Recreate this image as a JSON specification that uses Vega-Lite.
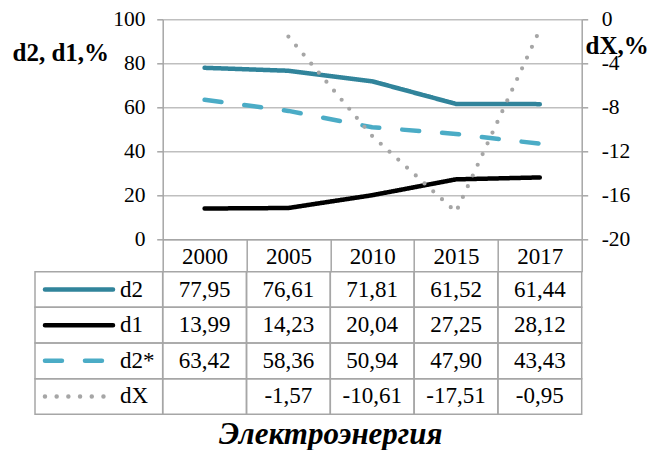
{
  "$schema": "https://vega.github.io/schema/vega-lite/v6.json",
  "width": 419,
  "height": 220,
  "autosize": {"type": "none"},
  "padding": {"left": 162.7, "top": 19.3, "right": 71.3, "bottom": 210.7},
  "background": "white",
  "config": {
    "locale": {"number": {"decimal": ",", "thousands": " ", "grouping": [3], "currency": ["", ""], "minus": "-"}},
    "view": {"stroke": null},
    "font": "Liberation Serif"
  },
  "title": {
    "text": "Электроэнергия",
    "orient": "bottom",
    "frame": "group",
    "anchor": "middle",
    "offset": 28.7,
    "baseline": "alphabetic",
    "font": "Liberation Serif",
    "fontSize": 31,
    "fontStyle": "italic",
    "fontWeight": "bold",
    "color": "black",
    "dx": -41.5
  },
  "datasets": {
    "table": [
      {"series": "d2", "year": "2000", "value": 77.95},
      {"series": "d2", "year": "2005", "value": 76.61},
      {"series": "d2", "year": "2010", "value": 71.81},
      {"series": "d2", "year": "2015", "value": 61.52},
      {"series": "d2", "year": "2017", "value": 61.44},
      {"series": "d1", "year": "2000", "value": 13.99},
      {"series": "d1", "year": "2005", "value": 14.23},
      {"series": "d1", "year": "2010", "value": 20.04},
      {"series": "d1", "year": "2015", "value": 27.25},
      {"series": "d1", "year": "2017", "value": 28.12},
      {"series": "d2*", "year": "2000", "value": 63.42},
      {"series": "d2*", "year": "2005", "value": 58.36},
      {"series": "d2*", "year": "2010", "value": 50.94},
      {"series": "d2*", "year": "2015", "value": 47.90},
      {"series": "d2*", "year": "2017", "value": 43.43},
      {"series": "dX", "year": "2000", "value": null},
      {"series": "dX", "year": "2005", "value": -1.57},
      {"series": "dX", "year": "2010", "value": -10.61},
      {"series": "dX", "year": "2015", "value": -17.51},
      {"series": "dX", "year": "2017", "value": -0.95}
    ]
  },
  "data": {"name": "table"},
  "resolve": {"scale": {"x": "independent", "y": "independent"}},
  "layer": [
    {
      "transform": [{"filter": "datum.series != 'dX'"}],
      "mark": {"type": "line", "strokeWidth": 4.5, "strokeCap": "round", "strokeJoin": "round"},
      "encoding": {
        "x": {
          "field": "year", "type": "ordinal", "bandPosition": 0.5,
          "scale": {"type": "band", "paddingInner": 0, "paddingOuter": 0},
          "axis": {
            "orient": "bottom", "title": null, "grid": false,
            "tickBand": "extent", "tickSize": 32.4, "tickColor": "#A6A6A6", "tickWidth": 1.5,
            "domainColor": "#A6A6A6", "domainWidth": 1.5,
            "labelFont": "Liberation Serif", "labelFontSize": 23, "labelColor": "black",
            "labelAngle": 0, "labelPadding": -26
          }
        },
        "y": {
          "field": "value", "type": "quantitative",
          "scale": {"domain": [0, 100], "nice": false},
          "axis": {
            "orient": "left", "values": [0, 20, 40, 60, 80, 100],
            "grid": true, "gridColor": "#BFBFBF", "gridWidth": 1.5,
            "domainColor": "#A6A6A6", "domainWidth": 1.5,
            "tickColor": "#A6A6A6", "tickWidth": 1.5, "tickSize": 6,
            "labelFont": "Liberation Serif", "labelFontSize": 21.5, "labelColor": "black", "labelPadding": 11.7,
            "title": "d2, d1,%", "titleAngle": 0, "titleFont": "Liberation Serif", "titleFontSize": 25,
            "titleFontWeight": "bold", "titleColor": "black", "titleAlign": "left", "titleBaseline": "alphabetic",
            "titleX": -150.7, "titleY": 41.4
          }
        },
        "color": {
          "field": "series", "type": "nominal",
          "scale": {"domain": ["d2", "d1", "d2*", "dX"], "range": ["#31849B", "#000000", "#4BACC6", "#A6A6A6"]},
          "legend": null
        },
        "strokeDash": {
          "field": "series", "type": "nominal",
          "scale": {"domain": ["d2", "d1", "d2*", "dX"], "range": [[1, 0], [1, 0], [17, 23], [0, 11.7]]},
          "legend": null
        }
      }
    },
    {
      "transform": [{"filter": "datum.series == 'dX' && datum.value != null"}],
      "mark": {"type": "line", "strokeWidth": 4.2, "strokeCap": "round", "strokeDash": [0, 11.8], "color": "#A6A6A6"},
      "encoding": {
        "x": {
          "field": "year", "type": "ordinal", "bandPosition": 0.5,
          "scale": {"type": "band", "domain": ["2000", "2005", "2010", "2015", "2017"], "paddingInner": 0, "paddingOuter": 0},
          "axis": null
        },
        "y": {
          "field": "value", "type": "quantitative",
          "scale": {"domain": [-20, 0], "nice": false, "zero": false},
          "axis": {
            "orient": "right", "values": [-20, -16, -12, -8, -4, 0], "grid": false,
            "domainColor": "#A6A6A6", "domainWidth": 1.5,
            "tickColor": "#A6A6A6", "tickWidth": 1.5, "tickSize": 6,
            "labelFont": "Liberation Serif", "labelFontSize": 21.5, "labelColor": "black", "labelPadding": 13.5,
            "title": "dX,%", "titleAngle": 0, "titleFont": "Liberation Serif", "titleFontSize": 25,
            "titleFontWeight": "bold", "titleColor": "black", "titleAlign": "left", "titleBaseline": "alphabetic",
            "titleX": 3.3, "titleY": 34
          }
        }
      }
    },
    {
      "mark": {"type": "rect", "fill": "transparent", "stroke": "#A6A6A6", "strokeWidth": 1.5},
      "encoding": {
        "x": {
          "field": "year", "type": "ordinal",
          "scale": {"type": "band", "domain": ["2000", "2005", "2010", "2015", "2017"], "paddingInner": 0, "paddingOuter": 0},
          "axis": null
        },
        "y": {
          "field": "series", "type": "nominal",
          "scale": {"type": "band", "domain": ["d2", "d1", "d2*", "dX"], "range": [252.4, 395], "paddingInner": 0, "paddingOuter": 0},
          "axis": null
        }
      }
    },
    {
      "transform": [{"filter": "datum.value != null"}],
      "mark": {"type": "text", "font": "Liberation Serif", "fontSize": 23, "color": "black", "baseline": "middle", "align": "center"},
      "encoding": {
        "x": {
          "field": "year", "type": "ordinal", "bandPosition": 0.5,
          "scale": {"type": "band", "domain": ["2000", "2005", "2010", "2015", "2017"], "paddingInner": 0, "paddingOuter": 0},
          "axis": null
        },
        "y": {
          "field": "series", "type": "nominal", "bandPosition": 0.5,
          "scale": {"type": "band", "domain": ["d2", "d1", "d2*", "dX"], "range": [252.4, 395], "paddingInner": 0, "paddingOuter": 0},
          "axis": null
        },
        "text": {"field": "value", "type": "quantitative", "format": ".2f"}
      }
    },
    {
      "transform": [{"filter": "datum.year == '2000'"}],
      "mark": {"type": "rect", "fill": "transparent", "stroke": "#A6A6A6", "strokeWidth": 1.5},
      "encoding": {
        "x": {"datum": 0, "type": "quantitative", "scale": {"domain": [0, 100], "range": [-127.7, 0]}, "axis": null},
        "x2": {"datum": 100},
        "y": {
          "field": "series", "type": "nominal",
          "scale": {"type": "band", "domain": ["d2", "d1", "d2*", "dX"], "range": [252.4, 395], "paddingInner": 0, "paddingOuter": 0},
          "axis": null
        }
      }
    },
    {
      "transform": [{"filter": "datum.year == '2000'"}],
      "mark": {"type": "rule", "strokeWidth": 4.5, "strokeCap": "round"},
      "encoding": {
        "x": {"datum": 7.8, "type": "quantitative", "scale": {"domain": [0, 100], "range": [-127.7, 0]}, "axis": null},
        "x2": {"datum": 61.1},
        "y": {
          "field": "series", "type": "nominal", "bandPosition": 0.5,
          "scale": {"type": "band", "domain": ["d2", "d1", "d2*", "dX"], "range": [252.4, 395], "paddingInner": 0, "paddingOuter": 0},
          "axis": null
        },
        "color": {"field": "series", "type": "nominal", "legend": null},
        "strokeDash": {"field": "series", "type": "nominal", "legend": null}
      }
    },
    {
      "transform": [{"filter": "datum.year == '2000'"}],
      "mark": {"type": "text", "font": "Liberation Serif", "fontSize": 23, "color": "black", "baseline": "middle", "align": "left"},
      "encoding": {
        "x": {"datum": 66.6, "type": "quantitative", "scale": {"domain": [0, 100], "range": [-127.7, 0]}, "axis": null},
        "y": {
          "field": "series", "type": "nominal", "bandPosition": 0.5,
          "scale": {"type": "band", "domain": ["d2", "d1", "d2*", "dX"], "range": [252.4, 395], "paddingInner": 0, "paddingOuter": 0},
          "axis": null
        },
        "text": {"field": "series", "type": "nominal"}
      }
    }
  ]
}
